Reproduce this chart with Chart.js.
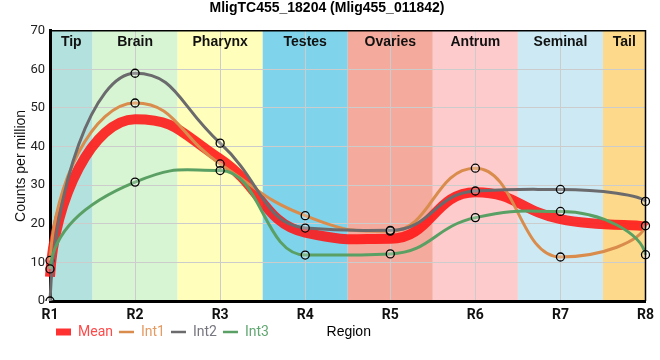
<!DOCTYPE html>
<html>
<head>
<meta charset="utf-8">
<script src="https://cdn.jsdelivr.net/npm/chart.js@4"></script>
<style>
  html, body { margin: 0; padding: 0; background: #ffffff; }
  #wrap { width: 660px; height: 360px; }
</style>
</head>
<body>
<div id="wrap"><canvas id="c" width="660" height="360"></canvas></div>
<script>
// ---- data ----
const titleText = 'MligTC455_18204 (Mlig455_011842)';
const categories = ['R1', 'R2', 'R3', 'R4', 'R5', 'R6', 'R7', 'R8'];
const meanValues = [6.3, 47.1, 36.8, 17.7, 16.1, 28.2, 21.2, 19.1];
const int1Values = [10.5, 51.3, 35.5, 22.1, 18.1, 34.4, 11.4, 19.5];
const int2Values = [0, 59.0, 40.9, 18.9, 18.3, 28.5, 28.9, 25.8];
const int3Values = [8.3, 30.8, 33.8, 11.9, 12.2, 21.6, 23.2, 12.0];
const seriesNames = ['Mean', 'Int1', 'Int2', 'Int3'];
const regionNames = ['Tip', 'Brain', 'Pharynx', 'Testes', 'Ovaries', 'Antrum', 'Seminal', 'Tail'];
const regionStart = [0, 0.5, 1.5, 2.5, 3.5, 4.5, 5.5, 6.5];
const regionEnd = [0.5, 1.5, 2.5, 3.5, 4.5, 5.5, 6.5, 7];
const yTicks = [0, 10, 20, 30, 40, 50, 60, 70];

// ---- styles ----
const regionColors = ['#b3e1dd', '#d7f5d2', '#ffffbb', '#7fd3ea', '#f4aa9c', '#fdcbcb', '#cdeaf4', '#fdda8b'];
const lineColors = ['rgba(255,20,20,0.88)', '#d98c4c', '#6b6b6e', '#5aa064'];
const legendTextColors = ['#ff4a4a', '#e59a62', '#767680', '#62a872'];
const lineWidths = [10, 3, 3, 3];
const HANDLE_SCALE = 1.45;
const END_AX = 0.05;
const END_BY = 0.5;

const bandsPlugin = {
  id: 'bands',
  beforeDraw(chart) {
    const { ctx, chartArea: a, scales: { x } } = chart;
    ctx.save();
    regionNames.forEach((n, i) => {
      const x0 = x.getPixelForValue(regionStart[i]);
      const x1 = x.getPixelForValue(regionEnd[i]);
      ctx.fillStyle = regionColors[i];
      ctx.fillRect(x0, a.top, x1 - x0, a.bottom - a.top);
    });
    ctx.restore();
  },
  afterDatasetsDraw(chart) {
    const { ctx, chartArea: a, scales: { x } } = chart;
    ctx.save();
    ctx.font = 'bold 14px "Liberation Sans", Arial, sans-serif';
    ctx.fillStyle = '#111';
    ctx.textAlign = 'center';
    ctx.textBaseline = 'middle';
    regionNames.forEach((n, i) => {
      const x0 = x.getPixelForValue(regionStart[i]);
      const x1 = x.getPixelForValue(regionEnd[i]);
      ctx.fillText(n, (x0 + x1) / 2, a.top + 11);
    });
    ctx.strokeStyle = '#000';
    ctx.lineWidth = 1.5;
    ctx.beginPath();
    ctx.moveTo(a.left, a.top);
    ctx.lineTo(a.right, a.top);
    ctx.lineTo(a.right, a.bottom);
    ctx.stroke();
    ctx.restore();
  },
  afterDraw(chart) {
    const { ctx, chartArea: a } = chart;
    const lg = chart.legend;
    if (!lg || !lg.legendHitBoxes || !lg.legendHitBoxes.length) return;
    const hb = lg.legendHitBoxes[0];
    ctx.save();
    ctx.font = '14px "Liberation Sans", Arial, sans-serif';
    ctx.fillStyle = '#000';
    ctx.textAlign = 'center';
    ctx.textBaseline = 'middle';
    ctx.fillText('Region', (a.left + a.right) / 2 + 1, hb.top + hb.height / 2);
    ctx.restore();
  }
};

// Reshape bezier handles (styling only): longer handles for flatter plateaus,
// steeper tangents at the two end points.
const curvePlugin = {
  id: 'curveShape',
  afterUpdate(chart) {
    chart.$shapeGen = (chart.$shapeGen || 0) + 1;
  },
  beforeDatasetDraw(chart, args) {
    const meta = args.meta;
    const line = meta.dataset;
    if (!line) return;
    if (line.$shapeGen === chart.$shapeGen) return;
    line.updateControlPoints(chart.chartArea, meta.iScale.axis);
    line.$shapeGen = chart.$shapeGen;
    const d = meta.data;
    const n = d.length;
    d.forEach(p => {
      p.cp1x = p.x + (p.cp1x - p.x) * HANDLE_SCALE;
      p.cp1y = p.y + (p.cp1y - p.y) * HANDLE_SCALE;
      p.cp2x = p.x + (p.cp2x - p.x) * HANDLE_SCALE;
      p.cp2y = p.y + (p.cp2y - p.y) * HANDLE_SCALE;
    });
    if (n > 1) {
      const p0 = d[0], p1 = d[1];
      p0.cp2x = p0.x + (p1.x - p0.x) * END_AX;
      p0.cp2y = p0.y + (p1.y - p0.y) * END_BY;
      const pn = d[n - 1], pm = d[n - 2];
      pn.cp1x = pn.x - (pn.x - pm.x) * END_AX;
      pn.cp1y = pn.y - (pn.y - pm.y) * END_BY;
    }
    line._path = undefined;
  }
};

const allValues = [meanValues, int1Values, int2Values, int3Values];
const datasets = allValues.map((vals, i) => ({
  label: seriesNames[i],
  data: vals,
  borderColor: lineColors[i],
  backgroundColor: lineColors[i],
  borderWidth: lineWidths[i],
  cubicInterpolationMode: 'monotone',
  tension: 0.4,
  pointRadius: i === 0 ? 0 : 4,
  pointBorderWidth: 1.3,
  pointBorderColor: '#000',
  pointBackgroundColor: 'rgba(255,255,255,0.25)',
  order: i === 0 ? 10 : 5 - i,
  fill: false
}));

new Chart(document.getElementById('c'), {
  type: 'line',
  data: { labels: categories, datasets },
  plugins: [bandsPlugin, curvePlugin],
  options: {
    responsive: false,
    animation: false,
    events: [],
    layout: { padding: { left: 4, right: 10, top: 0, bottom: 11 } },
    plugins: {
      title: {
        display: true,
        text: titleText,
        color: '#000',
        font: { family: '"Liberation Sans", Arial, sans-serif', size: 14, weight: 'bold' },
        padding: { top: 0, bottom: 14 }
      },
      tooltip: { enabled: false },
      legend: {
        display: true,
        position: 'bottom',
        align: 'start',
        fullSize: false,
        labels: {
          usePointStyle: true,
          pointStyleWidth: 15,
          boxHeight: 10,
          padding: 6,
          font: { family: 'Roboto, sans-serif', size: 14 },
          generateLabels() {
            return seriesNames.map((n, i) => ({
              text: n,
              fillStyle: lineColors[i],
              strokeStyle: lineColors[i],
              fontColor: legendTextColors[i],
              lineWidth: i === 0 ? 7 : 2.5,
              pointStyle: 'line',
              hidden: false,
              datasetIndex: i
            }));
          }
        }
      }
    },
    scales: {
      x: {
        type: 'category',
        offset: false,
        afterFit(scale) { scale.height = 18; },
        grid: { color: '#cccccc', lineWidth: 1, drawTicks: false },
        border: { color: '#000', width: 3 },
        ticks: {
          color: '#111',
          padding: 6,
          font: { family: 'Roboto, sans-serif', size: 14, weight: 'bold' }
        }
      },
      y: {
        min: 0,
        max: 70,
        afterBuildTicks(scale) { scale.ticks = yTicks.map(v => ({ value: v })); },
        afterFit(scale) { scale.width = 46; },
        grid: { color: '#cccccc', lineWidth: 1, drawTicks: false },
        border: { color: '#000', width: 3 },
        title: {
          display: true,
          text: 'Counts per million',
          color: '#111',
          font: { family: '"Liberation Sans", Arial, sans-serif', size: 14 },
          padding: { top: 9, bottom: 0 }
        },
        ticks: {
          color: '#222',
          padding: 5,
          font: { family: 'Roboto, sans-serif', size: 13 }
        }
      }
    }
  }
});
</script>
</body>
</html>
